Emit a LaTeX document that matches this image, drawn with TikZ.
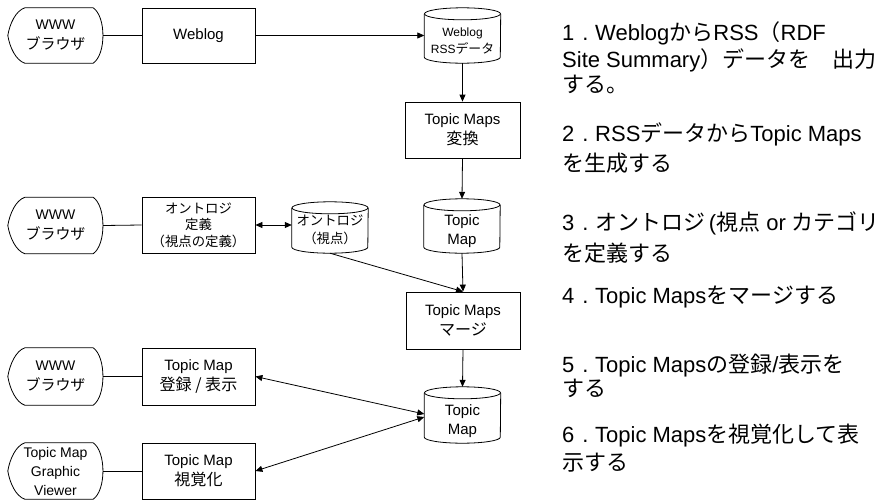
\documentclass[tikz,border=0pt]{standalone}
\usepackage{fontspec}
\setmainfont{Liberation Sans}
\newfontfamily\jp{Noto Sans CJK JP}
\newfontfamily\jpd[Scale=1.07]{Noto Sans CJK JP}
\usetikzlibrary{arrows.meta,calc}
\newcommand\J[1]{{\jp #1}}
\newcommand\D[1]{{\jpd #1}}
\newcommand\fs[2]{\fontsize{#1}{#2}\selectfont}
\newcommand\num[1]{\makebox[33pt][l]{#1\kern8pt.}}
\newcommand\drawbrowser[1]{%
  \draw[shapeline] ($(#1.north west)+(17,0)$) -- ($(#1.north east)+(-10,0)$)
    .. controls ($(#1.north east)+(3,9)$) and ($(#1.south east)+(3,-9)$) .. ($(#1.south east)+(-10,0)$)
    -- ($(#1.south west)+(17,0)$)
    .. controls ($(#1.south west)+(8,-3)$) and ($(#1.west)+(2,12)$) .. (#1.west)
    .. controls ($(#1.west)+(2,-12)$) and ($(#1.north west)+(8,3)$) .. cycle;}
\newcommand\drawcyl[1]{%
  \draw[shapeline] ($(#1.north west)+(0,6)$) -- ($(#1.south west)+(0,-6)$)
    arc[start angle=180,end angle=360,x radius=38pt,y radius=6pt]
    -- ($(#1.north east)+(0,6)$);
  \draw[shapeline] ($(#1.north)+(0,6)$) ellipse [x radius=38pt,y radius=6pt];}
\begin{document}
\begin{tikzpicture}[x=1pt,y=-1pt,
  shapeline/.style={line width=0.8pt,black},
  conn/.style={line width=0.8pt,black},
  arr/.style={conn,-{Triangle[length=7pt,width=6pt]}},
  darr/.style={conn,{Triangle[length=7pt,width=6pt]}-{Triangle[length=7pt,width=6pt]}},
  procbox/.style={draw,shapeline,minimum width=113pt,minimum height=56pt,inner sep=0pt,align=center,font=\fs{15}{20}},
  browser/.style={minimum width=95pt,minimum height=56pt,inner sep=0pt,align=center,font=\fs{14}{20}},
  cylbody/.style={minimum width=76pt,inner sep=0pt},
  note/.style={anchor=base west,inner sep=0pt,font=\fs{22}{26}}]
\useasboundingbox (0,0) rectangle (879,501);

% browsers
\node[browser,minimum height=55pt] (b1) at (55.5,35.5) {WWW\\\D{ブラウザ}};
\node[browser] (b2) at (55.5,225.5) {WWW\\\D{ブラウザ}};
\node[browser,minimum height=57pt] (b3) at (55.5,376.5) {WWW\\\D{ブラウザ}};
\node[browser,font=\fs{14}{19}] (b4) at (55.5,471) {Topic Map\\Graphic\\Viewer};
\drawbrowser{b1}\drawbrowser{b2}\drawbrowser{b3}\drawbrowser{b4}

% process boxes
\node[procbox,minimum height=55pt] (weblog) at (198.5,35.5) {Weblog};
\node[procbox,font=\fs{12.5}{16.5}] (ontdef) at (198.5,225) {\D{オントロジ}\\\D{定義}\\\D{（視点の定義）}};
\node[procbox,minimum height=57pt] (reg) at (198.5,376.5) {Topic Map\\\D{登録 / 表示}};
\node[procbox] (vis) at (198.5,471) {Topic Map\\\D{視覚化}};
\node[procbox,minimum width=115pt] (conv) at (462.5,130) {Topic Maps\\\D{変換}};
\node[procbox,minimum width=114pt,minimum height=57pt] (merge) at (463,320.5) {Topic Maps\\\D{マージ}};

% cylinders
\node[cylbody,minimum height=55pt,label={[font=\fs{12}{17},align=center,yshift=-6pt]center:{Weblog\\RSS\D{データ}}}] (rss) at (462.5,35.5) {};
\node[cylbody,minimum height=54pt,label={[font=\fs{15}{19},align=center,yshift=-5pt]center:{Topic\\Map}}] (tm1) at (462,226) {};
\node[cylbody,minimum height=51pt,label={[font=\fs{12.5}{18},align=center,yshift=-2pt]center:{\D{オントロジ}\\\D{（視点）}}}] (ont) at (330,227.5) {};
\node[cylbody,minimum height=56pt,label={[font=\fs{15}{19},align=center,yshift=-6pt]center:{Topic\\Map}}] (tm2) at (462.5,415) {};
\drawcyl{rss}\drawcyl{tm1}\drawcyl{ont}\drawcyl{tm2}

% connectors
\draw[conn] (b1.east) -- (weblog.west);
\draw[conn] (b2.east) -- (ontdef.west);
\draw[conn] (b3.east) -- (reg.west);
\draw[conn] (b4.east) -- (vis.west);
\draw[arr] (weblog.east) -- (rss.west);
\draw[arr] (rss.south) -- (conv.north);
\draw[arr] (conv.south) -- (tm1.north);
\draw[darr] (ontdef.east) -- (ontdef.east -| ont.west);
\draw[arr] (ont.south) -- (merge.north);
\draw[arr] (tm1.south) -- (merge.north);
\draw[arr] (merge.south) -- (tm2.north);
\draw[darr] (reg.east) -- ($(tm2.west)+(0,-1)$);
\draw[darr] (vis.east) -- ($(tm2.west)+(0,2)$);

% notes
\node[note] (t1a) at (562,40.5) {\num1Weblog\J{から}RSS\J{（}RDF};
\node[note] (t1b) at (562,67.5) {Site Summary\J{）データを　出力}};
\node[note] (t1c) at (562,92) {\J{する。}};
\node[note] (t2a) at (562,141.5) {\num2RSS\J{データから}Topic Maps};
\node[note] (t2b) at (562,171) {\J{を生成する}};
\node[note] (t3a) at (562,230) {\num3\J{オントロジ}\,(\J{視点} or \J{カテゴリ}};
\node[note] (t3b) at (562,261) {\J{を定義する}};
\node[note] (t4) at (562,303) {\num4Topic Maps\J{をマージする}};
\node[note] (t5a) at (562,372) {\num5Topic Maps\J{の登録}/\J{表示を}};
\node[note] (t5b) at (562,396) {\J{する}};
\node[note] (t6a) at (562,442) {\num6Topic Maps\J{を視覚化して表}};
\node[note] (t6b) at (562,470) {\J{示する}};
\end{tikzpicture}
\end{document}
